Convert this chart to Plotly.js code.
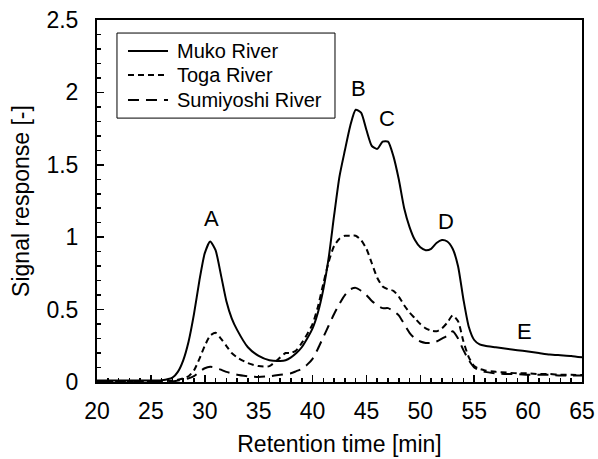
<!DOCTYPE html>
<html>
<head>
<meta charset="utf-8">
<script src="https://cdn.plot.ly/plotly-3.0.1.min.js"></script>
<style>html,body{margin:0;padding:0;background:#fff;}#chart{width:598px;height:459px;}</style>
</head>
<body>
<div id="chart"></div>
<script>
var time = [20, 22, 24, 26, 27, 27.5, 28, 28.5, 29, 29.5, 30, 30.5, 31, 31.5, 32, 32.5, 33, 34, 35, 36, 37, 37.5, 38, 38.5, 39, 39.5, 40, 40.5, 41, 41.5, 42, 42.5, 43, 43.5, 44, 44.5, 45, 45.5, 46, 46.5, 47, 47.5, 48, 48.5, 49, 49.5, 50, 50.5, 51, 51.5, 52, 52.5, 53, 53.5, 54, 54.5, 55, 55.5, 56, 57, 58, 59, 60, 61, 62, 63, 64, 65];

var muko = [0.01, 0.01, 0.01, 0.012, 0.03, 0.07, 0.15, 0.28, 0.47, 0.70, 0.89, 0.97, 0.91, 0.74, 0.56, 0.44, 0.36, 0.24, 0.18, 0.15, 0.145, 0.15, 0.17, 0.20, 0.24, 0.30, 0.37, 0.48, 0.64, 0.86, 1.15, 1.42, 1.60, 1.77, 1.88, 1.86, 1.74, 1.63, 1.61, 1.66, 1.66, 1.56, 1.40, 1.20, 1.07, 0.98, 0.93, 0.91, 0.92, 0.96, 0.98, 0.97, 0.92, 0.80, 0.57, 0.38, 0.29, 0.26, 0.25, 0.24, 0.23, 0.22, 0.21, 0.20, 0.19, 0.185, 0.18, 0.17];

var toga = [0.005, 0.005, 0.005, 0.005, 0.01, 0.015, 0.025, 0.04, 0.08, 0.16, 0.25, 0.32, 0.34, 0.30, 0.25, 0.20, 0.17, 0.13, 0.11, 0.11, 0.17, 0.20, 0.20, 0.22, 0.27, 0.33, 0.40, 0.52, 0.68, 0.83, 0.94, 0.99, 1.01, 1.01, 1.01, 0.98, 0.92, 0.82, 0.72, 0.66, 0.64, 0.63, 0.59, 0.53, 0.48, 0.44, 0.40, 0.37, 0.355, 0.35, 0.37, 0.41, 0.46, 0.42, 0.28, 0.17, 0.11, 0.09, 0.08, 0.07, 0.065, 0.06, 0.06, 0.055, 0.055, 0.05, 0.05, 0.048];

var sumiyoshi = [0.0, 0.0, 0.0, 0.0, 0.005, 0.01, 0.015, 0.025, 0.04, 0.07, 0.095, 0.105, 0.10, 0.085, 0.07, 0.06, 0.05, 0.04, 0.035, 0.04, 0.05, 0.055, 0.06, 0.075, 0.09, 0.12, 0.16, 0.23, 0.31, 0.39, 0.47, 0.54, 0.60, 0.64, 0.65, 0.63, 0.60, 0.56, 0.53, 0.51, 0.51, 0.49, 0.46, 0.40, 0.34, 0.30, 0.28, 0.27, 0.27, 0.28, 0.30, 0.32, 0.35, 0.30, 0.22, 0.15, 0.10, 0.08, 0.07, 0.06, 0.055, 0.055, 0.05, 0.05, 0.05, 0.045, 0.045, 0.045];

var seriesNames = ["Muko River", "Toga River", "Sumiyoshi River"];
var peakLabels = ["A", "B", "C", "D", "E"];
var peakX = [30.6, 44.3, 46.9, 52.4, 59.7];
var peakY = [1.13, 2.03, 1.82, 1.11, 0.35];

var xTicks = [20, 25, 30, 35, 40, 45, 50, 55, 60, 65];
var yTicks = [0, 0.5, 1, 1.5, 2, 2.5];
var yTickText = ["0", "0.5", "1", "1.5", "2", "2.5"];

var FONT = "Liberation Sans, Arial, sans-serif";
var dashes = ["solid", "6px,4px", "11px,7px"];
var series = [muko, toga, sumiyoshi];

var traces = series.map(function (ys, i) {
  return {x: time, y: ys, name: seriesNames[i], mode: "lines", showlegend: false,
          line: {color: "#000", width: 2, dash: dashes[i], shape: "spline", smoothing: 0.6}};
});

var annotations = peakLabels.map(function (t, i) {
  return {x: peakX[i], y: peakY[i], text: t, showarrow: false, xref: "x", yref: "y",
          font: {family: FONT, size: 22, color: "#000"}};
});

// legend (drawn as a boxed key in paper coordinates)
var legX0 = 0.0412, legX1 = 0.4907, legY0 = 0.729, legY1 = 0.964;
var keyX0 = 0.0639, keyX1 = 0.1464, keyTextX = 0.160;
var keyRows = [0.9144, 0.8481, 0.779];
var shapes = [{type: "rect", xref: "paper", yref: "paper", x0: legX0, x1: legX1, y0: legY0, y1: legY1,
               line: {color: "#000", width: 1}, fillcolor: "#fff", layer: "above"}];
seriesNames.forEach(function (n, i) {
  shapes.push({type: "line", xref: "paper", yref: "paper", x0: keyX0, x1: keyX1, y0: keyRows[i], y1: keyRows[i],
               line: {color: "#000", width: 2, dash: dashes[i]}, layer: "above"});
  annotations.push({xref: "paper", yref: "paper", x: keyTextX, y: keyRows[i], xanchor: "left", yanchor: "middle",
                    text: n, showarrow: false, font: {family: FONT, size: 20, color: "#000"}});
});

var layout = {
  width: 598, height: 459,
  margin: {l: 97, r: 16, t: 20, b: 77},
  paper_bgcolor: "#fff", plot_bgcolor: "#fff",
  font: {family: FONT, size: 23, color: "#000"},
  showlegend: false,
  xaxis: {
    range: [20, 65], tickvals: xTicks, ticktext: xTicks.map(String),
    showline: true, linecolor: "#000", linewidth: 2, mirror: true,
    ticks: "inside", ticklen: 7, tickwidth: 1.5, tickcolor: "#000",
    minor: {dtick: 1, tick0: 20, ticks: "inside", ticklen: 4, tickwidth: 1.5, tickcolor: "#000"},
    showgrid: false, zeroline: false, ticklabelstandoff: 7,
    tickfont: {family: FONT, size: 23, color: "#000"},
    title: {text: "Retention time [min]", font: {family: FONT, size: 23, color: "#000"}, standoff: 13}
  },
  yaxis: {
    range: [0, 2.5], tickvals: yTicks, ticktext: yTickText,
    showline: true, linecolor: "#000", linewidth: 2, mirror: true,
    ticks: "inside", ticklen: 7, tickwidth: 1.5, tickcolor: "#000",
    minor: {dtick: 0.1, tick0: 0, ticks: "inside", ticklen: 4, tickwidth: 1.5, tickcolor: "#000"},
    showgrid: false, zeroline: false, ticklabelstandoff: 12,
    tickfont: {family: FONT, size: 23, color: "#000"},
    title: {text: "Signal response [-]", font: {family: FONT, size: 23, color: "#000"}, standoff: 10}
  },
  shapes: shapes,
  annotations: annotations
};

Plotly.newPlot("chart", traces, layout, {displayModeBar: false, staticPlot: true});
</script>
</body>
</html>
